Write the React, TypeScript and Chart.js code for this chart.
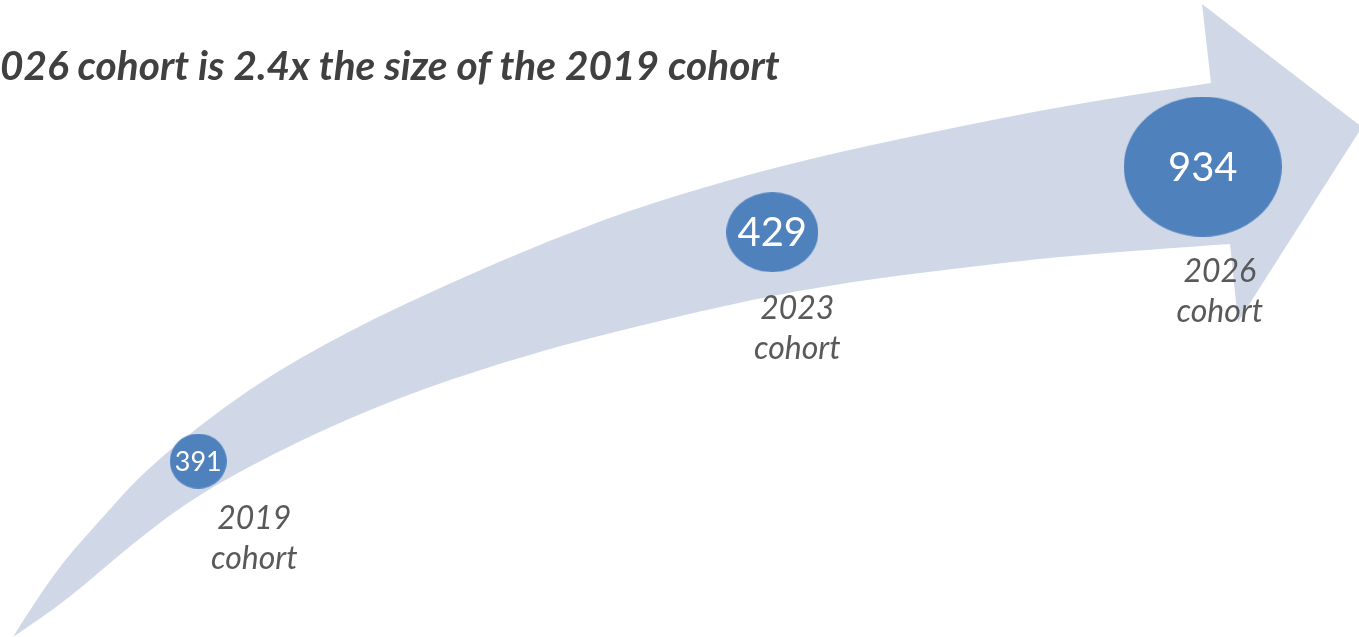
import React, { useEffect, useRef } from 'react';
import { Chart, registerables } from 'chart.js';

Chart.register(...registerables);

// ---- data ----
const cohortYears = [2019, 2023, 2026];
const cohortSizes = [391, 429, 934];
const cohortLabels = ['2019', '2023', '2026'];
const cohortSuffix = 'cohort';
const headline = '2026 cohort is 2.4x the size of the 2019 cohort';

// ---- look ----
const FONT = 'Lato, "Open Sans", sans-serif';
const BUBBLE_COLOR = '#4F81BD';
const ARROW_COLOR = '#D0D8E8';
const bubbleRadii = [[28.5, 27.5], [46, 40], [79, 70]]; // rx, ry of the drawn ellipses
const valueFontSizes = [27, 40, 40];
const labelOffsets = [[56, 68], [25, 87], [17, 115]]; // dx, dy of first line baseline

// arrow outline, drawn in a 1359x637 design space
const BASE_W = 1359;
const BASE_H = 637;
const upperEdge = [
  [13, 637], [50, 577], [100, 520], [150, 465], [250, 387], [350, 330], [450, 283],
  [550, 240], [650, 203], [800, 160], [1000, 118], [1100, 100], [1211, 83],
];
const lowerEdge = [
  [13, 637], [67, 600], [133, 543], [200, 493], [300, 440], [400, 397], [500, 363],
  [600, 335], [800, 288], [1000, 263], [1100, 253], [1230, 244],
];
const arrowHead = [[1211, 83], [1202, 4], [1362, 127], [1238, 322], [1230, 244]];

// year axis range so the cohorts sit along the arrow
const X_MIN = 2017.646;
const X_MAX = 2027.061;

function edgeAt(edge: number[][], x: number) {
  for (let i = 1; i < edge.length; i++) {
    const [x0, y0] = edge[i - 1];
    const [x1, y1] = edge[i];
    if (x <= x1) return y0 + ((y1 - y0) * (x - x0)) / (x1 - x0);
  }
  return edge[edge.length - 1][1];
}

// bubbles ride on the middle of the arrow band; the ellipse image gives the size,
// r stays tiny so the chart does not pad its area for the bubbles
const bubbleData = cohortYears.map((year, i) => {
  const px = ((year - X_MIN) / (X_MAX - X_MIN)) * BASE_W;
  const mid = (edgeAt(upperEdge, px) + edgeAt(lowerEdge, px)) / 2;
  return { x: year, y: 100 * (1 - mid / BASE_H), r: 0.5, v: cohortSizes[i] };
});

function makeEllipse(rx: number, ry: number) {
  const c = document.createElement('canvas');
  c.width = Math.round(rx * 2);
  c.height = Math.round(ry * 2);
  const g = c.getContext('2d')!;
  g.fillStyle = BUBBLE_COLOR;
  g.beginPath();
  g.ellipse(c.width / 2, c.height / 2, rx, ry, 0, 0, Math.PI * 2);
  g.fill();
  return c;
}

function smoothPath(ctx: CanvasRenderingContext2D, pts: number[][], sx: number, sy: number, move: boolean) {
  if (move) ctx.moveTo(pts[0][0] * sx, pts[0][1] * sy);
  else ctx.lineTo(pts[0][0] * sx, pts[0][1] * sy);
  for (let i = 1; i < pts.length - 1; i++) {
    const mx = (pts[i][0] + pts[i + 1][0]) / 2;
    const my = (pts[i][1] + pts[i + 1][1]) / 2;
    ctx.quadraticCurveTo(pts[i][0] * sx, pts[i][1] * sy, mx * sx, my * sy);
  }
  const last = pts[pts.length - 1];
  ctx.lineTo(last[0] * sx, last[1] * sy);
}

const arrowPlugin = {
  id: 'arrowBackdrop',
  beforeDatasetsDraw(chart: Chart) {
    const ctx = chart.ctx;
    const sx = chart.width / BASE_W;
    const sy = chart.height / BASE_H;
    ctx.save();
    ctx.fillStyle = ARROW_COLOR;
    ctx.beginPath();
    smoothPath(ctx, upperEdge, sx, sy, true);
    arrowHead.slice(1).forEach(([x, y]) => ctx.lineTo(x * sx, y * sy));
    smoothPath(ctx, [...lowerEdge].reverse(), sx, sy, false);
    ctx.closePath();
    ctx.fill();
    ctx.restore();
  },
};

const textPlugin = {
  id: 'cohortText',
  afterDatasetsDraw(chart: Chart) {
    const ctx = chart.ctx;
    const meta = chart.getDatasetMeta(0);
    ctx.save();
    meta.data.forEach((el: any, i: number) => {
      ctx.textAlign = 'center';
      ctx.textBaseline = 'middle';
      ctx.fillStyle = '#FFFFFF';
      ctx.font = `${valueFontSizes[i]}px ${FONT}`;
      ctx.fillText(String(cohortSizes[i]), el.x, el.y + 1);

      ctx.textBaseline = 'alphabetic';
      ctx.fillStyle = '#595959';
      ctx.font = `italic 32px ${FONT}`;
      const [dx, dy] = labelOffsets[i];
      ctx.fillText(cohortLabels[i], el.x + dx, el.y + dy);
      ctx.fillText(cohortSuffix, el.x + dx, el.y + dy + 40);
    });

    // headline: first character runs off the left edge
    ctx.fillStyle = '#404040';
    ctx.textAlign = 'left';
    ctx.textBaseline = 'alphabetic';
    ctx.font = `italic bold 100px ${FONT}`;
    const w = ctx.measureText(headline.slice(1)).width;
    const size = (100 * 780) / w;
    ctx.font = `italic bold ${size}px ${FONT}`;
    const lead = ctx.measureText(headline.slice(0, 1)).width;
    ctx.fillText(headline, -lead, 80);
    ctx.restore();
  },
};

const App: React.FC = () => {
  const canvasRef = useRef<HTMLCanvasElement | null>(null);

  useEffect(() => {
    document.body.style.margin = '0';
    if (!canvasRef.current) return;
    const images = bubbleRadii.map(([rx, ry]) => makeEllipse(rx, ry));

    const chart = new Chart(canvasRef.current, {
      type: 'bubble',
      data: {
        datasets: [
          {
            label: 'Cohort size',
            data: bubbleData,
            backgroundColor: BUBBLE_COLOR,
            borderWidth: 0,
            pointStyle: (c: any) => images[c.dataIndex] as any,
            clip: false as any,
          },
        ],
      },
      options: {
        animation: false,
        responsive: true,
        maintainAspectRatio: false,
        layout: { padding: 0 },
        scales: {
          x: { type: 'linear', min: X_MIN, max: X_MAX, display: false },
          y: { type: 'linear', min: 0, max: 100, display: false },
        },
        plugins: {
          legend: { display: false },
          tooltip: { enabled: false },
        },
      },
      plugins: [arrowPlugin, textPlugin],
    });

    return () => {
      chart.destroy();
    };
  }, []);

  return (
    <div style={{ position: 'fixed', left: 0, top: 0, width: '100vw', height: '100vh', background: '#fff' }}>
      <canvas ref={canvasRef}></canvas>
    </div>
  );
};

export default App;
